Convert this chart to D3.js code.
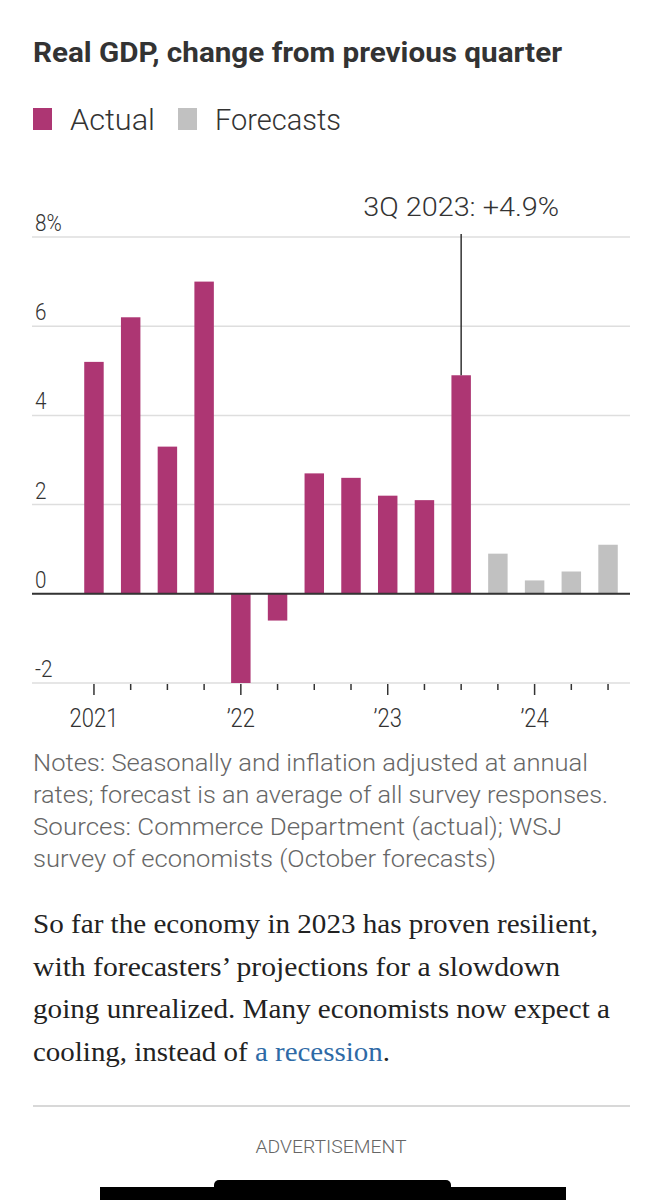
<!DOCTYPE html>
<html>
<head>
<meta charset="utf-8">
<script src="https://cdn.jsdelivr.net/npm/d3@7"></script>
<style>
  html, body { margin: 0; padding: 0; background: #fff; }
</style>
</head>
<body>
<div id="chart"></div>
<script>
const quarters = ["1Q21", "2Q21", "3Q21", "4Q21", "1Q22", "2Q22", "3Q22", "4Q22",
                  "1Q23", "2Q23", "3Q23", "4Q23", "1Q24", "2Q24", "3Q24"];
const actualValues = [5.2, 6.2, 3.3, 7.0, -2.0, -0.6, 2.7, 2.6, 2.2, 2.1, 4.9];
const forecastValues = [0.9, 0.3, 0.5, 1.1];
const yTicks = [-2, 0, 2, 4, 6, 8];
const yearLabels = { "1Q21": "2021", "1Q22": "\u201922", "1Q23": "\u201923", "1Q24": "\u201924" };
const seriesNames = ["Actual", "Forecasts"];
const noteLines = [
    "Notes: Seasonally and inflation adjusted at annual",
    "rates; forecast is an average of all survey responses.",
    "Sources: Commerce Department (actual); WSJ",
    "survey of economists (October forecasts)"
];
const bodyLines = [
    "So far the economy in 2023 has proven resilient,",
    "with forecasters\u2019 projections for a slowdown",
    "going unrealized. Many economists now expect a"
];

(() => {
    const width = 661;
    const height = 1200;
    const colors = { Actual: "#ad3673", Forecasts: "#c1c1c1" };
    const sans = "Roboto, 'Open Sans', sans-serif";
    const serif = "'Liberation Serif', 'DejaVu Serif', serif";

    const svg = d3.select("#chart")
        .append("svg")
        .attr("width", width)
        .attr("height", height);

    const data = quarters.map((q, i) => ({
        quarter: q,
        value: i < actualValues.length ? actualValues[i] : forecastValues[i - actualValues.length],
        series: i < actualValues.length ? "Actual" : "Forecasts"
    }));

    // squeeze a text to a given width, like the narrow WSJ faces
    const fit = (sel, w) => sel.attr("textLength", w).attr("lengthAdjust", "spacingAndGlyphs");
    const narrow = (sel, k) => fit(sel, sel.node().getComputedTextLength() * k);

    // title
    fit(svg.append("text")
        .attr("x", 33).attr("y", 62)
        .attr("font-family", sans).attr("font-weight", 700)
        .attr("font-size", 28).attr("fill", "#333")
        .text("Real GDP, change from previous quarter"), 529);

    // legend
    const legendX = [33, 178];
    const legendW = [85, 126];
    seriesNames.forEach((name, i) => {
        svg.append("rect")
            .attr("x", legendX[i]).attr("y", 108)
            .attr("width", 19).attr("height", 22)
            .attr("fill", colors[name]);
        fit(svg.append("text")
            .attr("x", legendX[i] + 37).attr("y", 130)
            .attr("font-family", sans).attr("font-weight", 300)
            .attr("font-size", 30).attr("fill", "#333")
            .text(name), legendW[i]);
    });

    const x = d3.scaleBand()
        .domain(quarters)
        .range([75.6, 626.4])
        .paddingInner(0.47)
        .paddingOuter(0.235);
    const y = d3.scaleLinear().domain([-2, 8]).range([683, 237]);

    // gridlines and y labels
    const grid = svg.append("g");
    yTicks.forEach(t => {
        grid.append("line")
            .attr("x1", 32).attr("x2", 630)
            .attr("y1", y(t)).attr("y2", y(t))
            .attr("stroke", "#dedede").attr("stroke-width", 1.5);
        narrow(grid.append("text")
            .attr("x", 35).attr("y", y(t) - 6)
            .attr("font-family", sans).attr("font-weight", 300)
            .attr("font-size", 24).attr("fill", "#333")
            .text(t === 8 ? "8%" : t), 0.86);
    });

    // bars
    svg.append("g")
        .selectAll("rect")
        .data(data)
        .join("rect")
        .attr("x", d => x(d.quarter))
        .attr("width", x.bandwidth())
        .attr("y", d => y(Math.max(0, d.value)))
        .attr("height", d => Math.abs(y(d.value) - y(0)))
        .attr("fill", d => colors[d.series]);

    // zero line
    svg.append("line")
        .attr("x1", 32).attr("x2", 630)
        .attr("y1", y(0)).attr("y2", y(0))
        .attr("stroke", "#333").attr("stroke-width", 2);

    // x axis ticks and year labels
    const xAxis = svg.append("g");
    quarters.forEach(q => {
        const cx = x(q) + x.bandwidth() / 2;
        const isYear = q in yearLabels;
        xAxis.append("line")
            .attr("x1", cx).attr("x2", cx)
            .attr("y1", y(-2) + 1).attr("y2", y(-2) + (isYear ? 12 : 7))
            .attr("stroke", "#333").attr("stroke-width", 1.5);
        if (isYear) {
            narrow(xAxis.append("text")
                .attr("x", cx).attr("y", 727)
                .attr("text-anchor", "middle")
                .attr("font-family", sans).attr("font-weight", 300)
                .attr("font-size", 25).attr("fill", "#333")
                .text(yearLabels[q]), 0.88);
        }
    });

    // annotation for the latest actual quarter
    const last = data[actualValues.length - 1];
    const ax = x(last.quarter) + x.bandwidth() / 2;
    svg.append("line")
        .attr("x1", ax).attr("x2", ax)
        .attr("y1", 234).attr("y2", y(last.value))
        .attr("stroke", "#333").attr("stroke-width", 1.5);
    fit(svg.append("text")
        .attr("x", ax).attr("y", 216)
        .attr("text-anchor", "middle")
        .attr("font-family", sans).attr("font-weight", 300)
        .attr("font-size", 26).attr("fill", "#333")
        .text(`3Q 2023: +${last.value.toFixed(1)}%`), 196);

    // notes
    const noteW = [555, 575, 529, 463];
    noteLines.forEach((line, i) => {
        fit(svg.append("text")
            .attr("x", 33).attr("y", 771 + i * 32)
            .attr("font-family", sans).attr("font-weight", 300)
            .attr("font-size", 23).attr("fill", "#666")
            .text(line), noteW[i]);
    });

    // article text
    const bodyW = [565, 527, 577];
    bodyLines.forEach((line, i) => {
        fit(svg.append("text")
            .attr("x", 33).attr("y", 933 + i * 42.7)
            .attr("font-family", serif)
            .attr("font-size", 27).attr("fill", "#222")
            .text(line), bodyW[i]);
    });
    const lastLine = svg.append("text")
        .attr("x", 33).attr("y", 933 + 3 * 42.7)
        .attr("font-family", serif)
        .attr("font-size", 27).attr("fill", "#222");
    lastLine.append("tspan").text("cooling, instead of ");
    lastLine.append("tspan").attr("fill", "#2e6aa6").text("a recession");
    lastLine.append("tspan").text(".");
    fit(lastLine, 357);

    // divider and advertisement slot
    svg.append("line")
        .attr("x1", 33).attr("x2", 630)
        .attr("y1", 1106).attr("y2", 1106)
        .attr("stroke", "#d8d8d8").attr("stroke-width", 2);
    fit(svg.append("text")
        .attr("x", 331).attr("y", 1153)
        .attr("text-anchor", "middle")
        .attr("font-family", sans).attr("font-weight", 300)
        .attr("font-size", 19).attr("fill", "#666")
        .text("ADVERTISEMENT"), 151);
    svg.append("rect")
        .attr("x", 214).attr("y", 1180)
        .attr("width", 237).attr("height", 14)
        .attr("rx", 5).attr("fill", "#000");
    svg.append("rect")
        .attr("x", 100).attr("y", 1187)
        .attr("width", 466).attr("height", 13)
        .attr("fill", "#000");
})();
</script>
</body>
</html>
